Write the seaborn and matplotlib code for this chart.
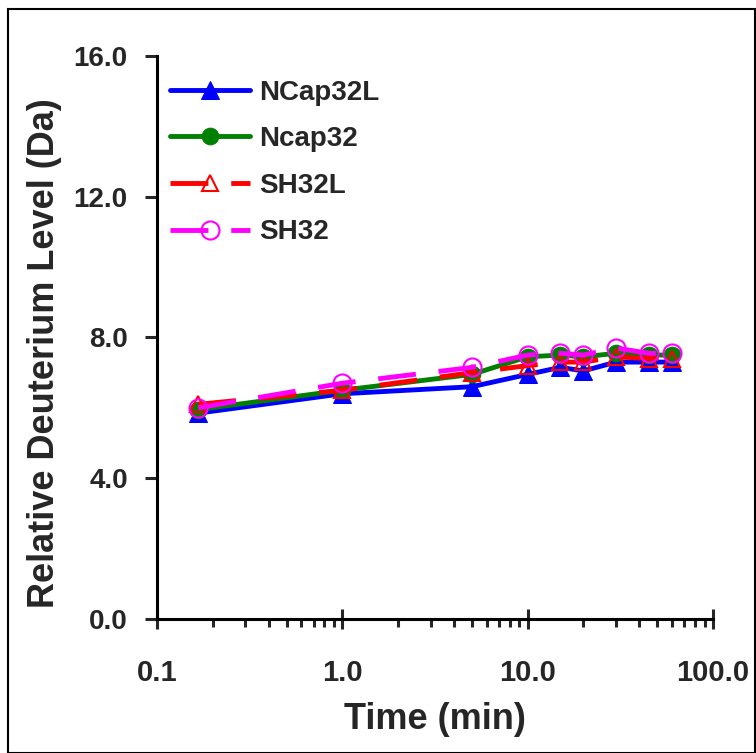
import matplotlib
matplotlib.use('Agg')
import matplotlib.pyplot as plt
import matplotlib.patches as patches
from matplotlib.ticker import FixedLocator, LogLocator, NullFormatter
import numpy as np
import pandas as pd
import seaborn as sns

# exchange time points (min)
times = [0.167, 1, 5, 10, 15, 20, 30, 45, 60]

# relative deuterium level (Da) per construct
ncap32l = [5.85, 6.4, 6.6, 6.95, 7.15, 7.05, 7.3, 7.3, 7.3]
ncap32 = [5.95, 6.5, 6.95, 7.45, 7.5, 7.45, 7.55, 7.5, 7.5]
sh32l = [6.1, 6.5, 7.0, 7.2, 7.3, 7.3, 7.45, 7.4, 7.4]
sh32 = [6.0, 6.7, 7.15, 7.5, 7.55, 7.5, 7.7, 7.55, 7.55]

labels = ['NCap32L', 'Ncap32', 'SH32L', 'SH32']
x_ticks = [0.1, 1, 10, 100]
x_ticklabels = ['0.1', '1.0', '10.0', '100.0']
y_ticks = [0, 4, 8, 12, 16]

sns.set_style('white')
plt.rcParams['font.family'] = ['Liberation Sans', 'DejaVu Sans']

fig = plt.figure(figsize=(7.56, 7.53), dpi=100)
ax = fig.add_axes([0.2077, 0.178, 0.7354, 0.7477])

dash = (0, (7.8, 4.7))
styles = [
    dict(color='#0000ff', marker='^', markersize=13, linestyle='-',
         markerfacecolor='#0000ff', markeredgecolor='#0000ff'),
    dict(color='#008000', marker='o', markersize=12, linestyle='-',
         markerfacecolor='#008000', markeredgecolor='#008000'),
    dict(color='#ff0000', marker='^', markersize=12, linestyle=dash,
         markerfacecolor='none', markeredgecolor='#ff0000', markeredgewidth=1.5),
    dict(color='#ff00ff', marker='o', markersize=13, linestyle=dash,
         markerfacecolor='none', markeredgecolor='#ff00ff', markeredgewidth=1.5),
]

for vals, lab, st in zip([ncap32l, ncap32, sh32l, sh32], labels, styles):
    df = pd.DataFrame({'time': times, 'level': vals})
    sns.lineplot(data=df, x='time', y='level', ax=ax, label=lab,
                 linewidth=3.5, legend=False, **st)

ax.set_xscale('log')
ax.set_xlim(0.1, 100)
ax.set_ylim(0, 16)

ax.xaxis.set_major_locator(FixedLocator(x_ticks))
ax.set_xticklabels(x_ticklabels)
ax.xaxis.set_minor_locator(LogLocator(base=10, subs=np.arange(2, 10)))
ax.xaxis.set_minor_formatter(NullFormatter())
ax.set_yticks(y_ticks)
ax.set_yticklabels(['%.1f' % v for v in y_ticks])

for s in ['top', 'right']:
    ax.spines[s].set_visible(False)
for s in ['left', 'bottom']:
    ax.spines[s].set_linewidth(2.2)
    ax.spines[s].set_color('black')

ax.tick_params(axis='x', which='major', direction='inout', length=14, width=2.2,
               pad=22, bottom=True)
ax.tick_params(axis='x', which='minor', direction='out', length=6, width=2.2,
               bottom=True)
ax.tick_params(axis='y', which='major', direction='out', length=9, width=2.2,
               pad=12, left=True)

for t in ax.get_xticklabels():
    t.set_fontsize(21)
    t.set_fontweight('bold')
for t in ax.get_yticklabels():
    t.set_fontsize(20)
    t.set_fontweight('bold')

ax.set_xlabel('Time (min)', fontsize=26, fontweight='bold')
ax.set_ylabel('Relative Deuterium Level (Da)', fontsize=26, fontweight='bold')
ax.xaxis.set_label_coords(0.5, -0.147)
ax.yaxis.set_label_coords(-0.171, 0.472)

leg = ax.legend(loc='upper left', bbox_to_anchor=(0.023, 0.958), borderaxespad=0,
                borderpad=0, frameon=False, handlelength=2.9, handletextpad=0.3,
                labelspacing=0.74, prop={'size': 20, 'weight': 'bold'})

fig.patches.append(patches.Rectangle((8 / 756, 0), 747 / 756, 1 - 9 / 753,
                                     transform=fig.transFigure, fill=False,
                                     edgecolor='black', linewidth=1.5))

fig.savefig('out.png', dpi=100)
